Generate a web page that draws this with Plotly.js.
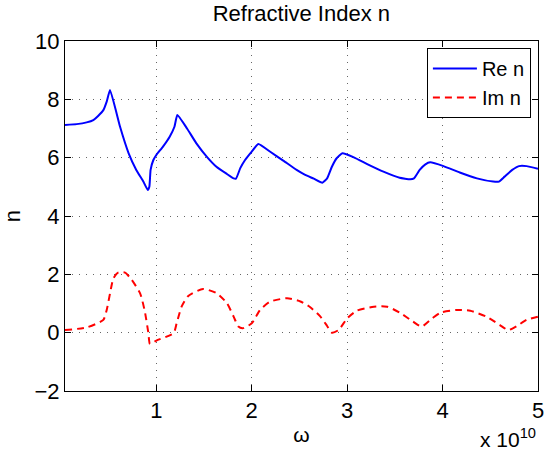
<!DOCTYPE html>
<html>
<head>
<meta charset="utf-8">
<script src="https://cdn.plot.ly/plotly-3.0.1.min.js"></script>
<style>html,body{margin:0;padding:0;background:#fff;}#chart{width:545px;height:459px;}</style>
</head>
<body>
<div id="chart"></div>
<script>
// omega in units of 1e10
const reX = [0.043, 0.165, 0.27, 0.34, 0.39, 0.445, 0.48, 0.515, 0.62, 0.71, 0.79, 0.864, 0.91, 0.927, 0.94, 0.969, 1.00, 1.07, 1.14, 1.19, 1.22, 1.32, 1.42, 1.53, 1.63, 1.74, 1.81, 1.835, 1.88, 1.93, 2.00, 2.07, 2.19, 2.33, 2.47, 2.56, 2.65, 2.74, 2.79, 2.84, 2.89, 2.95, 3.07, 3.21, 3.38, 3.55, 3.66, 3.70, 3.76, 3.82, 3.87, 4.01, 4.18, 4.36, 4.53, 4.59, 4.65, 4.73, 4.80, 4.88, 5.00];
const reY = [7.12, 7.15, 7.21, 7.29, 7.43, 7.63, 7.92, 8.32, 7.06, 6.15, 5.58, 5.18, 4.89, 5.00, 5.58, 5.92, 6.09, 6.38, 6.72, 7.06, 7.46, 7.01, 6.49, 6.03, 5.69, 5.44, 5.29, 5.28, 5.64, 5.92, 6.21, 6.47, 6.21, 5.90, 5.58, 5.41, 5.28, 5.14, 5.29, 5.69, 5.98, 6.15, 6.01, 5.78, 5.52, 5.31, 5.26, 5.29, 5.58, 5.77, 5.84, 5.71, 5.49, 5.29, 5.18, 5.18, 5.35, 5.58, 5.71, 5.71, 5.62];
const imX = [0.043, 0.27, 0.445, 0.48, 0.515, 0.55, 0.60, 0.672, 0.742, 0.83, 0.88, 0.917, 0.934, 1.00, 1.18, 1.213, 1.265, 1.335, 1.49, 1.633, 1.74, 1.81, 1.86, 1.905, 2.00, 2.087, 2.19, 2.37, 2.51, 2.61, 2.72, 2.79, 2.84, 2.91, 3.00, 3.10, 3.28, 3.42, 3.55, 3.69, 3.78, 3.89, 3.98, 4.15, 4.29, 4.46, 4.60, 4.69, 4.78, 4.88, 5.00];
const imY = [0.09, 0.18, 0.44, 0.78, 1.35, 1.86, 2.06, 2.06, 1.81, 1.35, 0.72, -0.02, -0.39, -0.27, -0.02, 0.32, 0.89, 1.26, 1.50, 1.35, 1.01, 0.55, 0.21, 0.15, 0.32, 0.78, 1.06, 1.18, 1.07, 0.88, 0.55, 0.23, 0.00, 0.09, 0.49, 0.75, 0.89, 0.89, 0.69, 0.38, 0.21, 0.49, 0.69, 0.78, 0.75, 0.55, 0.26, 0.09, 0.23, 0.44, 0.55];
const xTicks = [1, 2, 3, 4, 5];
const xTickText = ['1', '2', '3', '4', '5'];
const yTicks = [-2, 0, 2, 4, 6, 8, 10];
const seriesNames = ['Re n', 'Im n'];

const FONT = 'Liberation Sans, Arial, Helvetica, sans-serif';

const traces = [
  {x: reX, y: reY, name: seriesNames[0], mode: 'lines', line: {color: '#0000ff', width: 2, shape: 'spline', smoothing: 0.4}},
  {x: imX, y: imY, name: seriesNames[1], mode: 'lines', line: {color: '#ff0000', width: 2, dash: '7px,5px', shape: 'spline', smoothing: 0.6}}
];

const axisCommon = {
  showline: true, linecolor: '#000', linewidth: 1, mirror: 'ticks',
  ticks: 'inside', ticklen: 6, tickcolor: '#000', tickwidth: 1,
  showgrid: true, gridcolor: '#666', griddash: '1px,6px', gridwidth: 1,
  zeroline: false, tickfont: {family: FONT, size: 22, color: '#000'}
};

const layout = {
  width: 545, height: 459,
  margin: {l: 65, r: 7, t: 41, b: 68},
  paper_bgcolor: '#fff', plot_bgcolor: '#fff',
  font: {family: FONT, color: '#000'},
  title: {text: 'Refractive Index n', font: {family: FONT, size: 22, color: '#000'}, x: 0.553, xref: 'container', y: 0.97, yref: 'container', yanchor: 'middle'},
  xaxis: Object.assign({}, axisCommon, {
    range: [0.043, 5], tickvals: xTicks, ticktext: xTickText,
    title: {text: 'ω', font: {family: FONT, size: 21, color: '#000'}, standoff: 4}
  }),
  yaxis: Object.assign({}, axisCommon, {
    range: [-2, 10], tickvals: yTicks,
    title: {text: 'n', font: {family: FONT, size: 22, color: '#000'}, standoff: 12}
  }),
  showlegend: true,
  legend: {x: 0.985, xanchor: 'right', y: 0.98, yanchor: 'top', bgcolor: '#fff', bordercolor: '#000', borderwidth: 1, font: {family: FONT, size: 20, color: '#000'}, tracegroupgap: 0, itemwidth: 44},
  annotations: [{
    text: 'x 10<sup>10</sup>', xref: 'paper', yref: 'paper', x: 1.0, y: -0.134, xanchor: 'right', yanchor: 'middle', showarrow: false,
    font: {family: FONT, size: 21, color: '#000'}
  }]
};

Plotly.newPlot('chart', traces, layout, {displayModeBar: false, staticPlot: true});
</script>
</body>
</html>
